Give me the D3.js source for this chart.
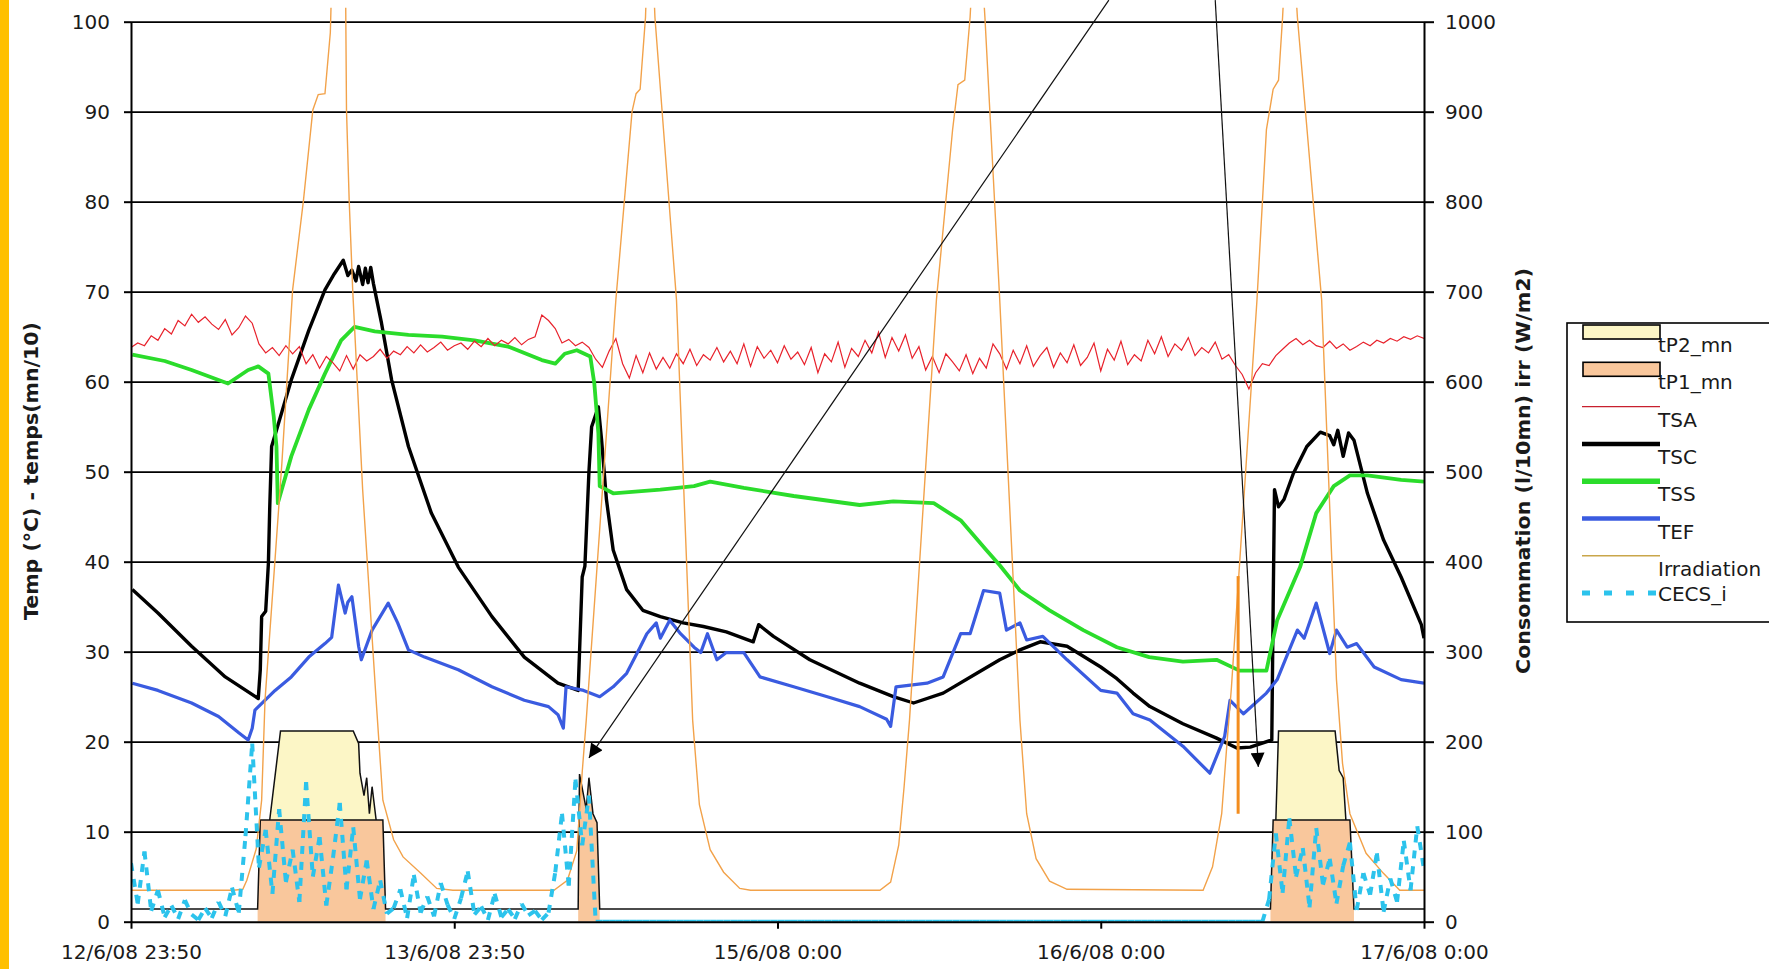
<!DOCTYPE html>
<meta charset="utf-8">
<style>
body{ margin:0; background:#fff; }
svg{ display:block; font-family:"DejaVu Sans", "Liberation Sans", sans-serif; }
.axis path, .axis line{ stroke:#000; stroke-width:2; }
.axis text{ font-family:"DejaVu Sans", sans-serif; font-size:20px; fill:#1a1a1a; }
.grid line{ stroke:#000; stroke-width:1.7; }
.grid path{ display:none; }
.legend text{ font-size:20px; fill:#1a1a1a; }
</style>
<body>
<script src="https://cdn.jsdelivr.net/npm/d3@7"></script>
<script>

// x values are hours since 12/6/08 23:50
var tickHours  = [0, 24, 48, 72, 96]
var tickLabels = ['12/6/08 23:50', '13/6/08 23:50', '15/6/08 0:00', '16/6/08 0:00', '17/6/08 0:00']

// sampled series (one value every half hour)
var SAMPLE_H = 0.5
var TSA = [
  63.8, 64.3, 64.0, 65.1, 64.6, 65.9, 65.3, 66.8, 66.2, 67.5,
  66.6, 67.2, 66.4, 65.8, 66.9, 65.2, 66.0, 67.3, 66.5, 64.2,
  63.2, 63.8, 62.9, 64.0, 63.1, 63.9, 62.0, 63.0, 61.5, 62.8,
  62.1, 61.2, 62.9, 61.4, 63.0, 62.3, 62.8, 63.6, 62.6, 63.4,
  63.0, 63.9, 63.2, 64.1, 63.3, 63.8, 64.4, 63.5, 64.0, 64.3,
  63.6, 64.5, 63.9, 64.8, 64.0, 64.6, 64.2, 64.9, 64.1, 64.7,
  65.0, 67.4, 66.8, 65.9, 64.3, 64.7, 64.0, 64.4, 63.8, 62.5,
  61.6, 63.4, 64.8, 62.0, 60.4, 62.9, 61.0, 63.2, 61.4, 62.7,
  61.5, 63.1, 62.0, 63.6, 61.8, 63.0, 62.4, 63.8, 62.2, 63.4,
  62.0, 64.2, 61.7, 63.9, 62.6, 63.5, 62.1, 64.0, 62.5, 63.3,
  61.9, 63.8, 61.0, 63.1, 62.2, 64.4, 61.6, 63.7, 62.8, 64.6,
  63.2, 65.5, 62.7, 64.9, 63.4, 65.2, 62.6, 63.9, 61.3, 62.8,
  61.0, 63.1, 62.2, 61.2, 63.0, 60.9, 62.6, 61.5, 64.2, 63.1,
  61.4, 63.5, 62.0, 64.0, 61.7, 62.9, 63.8, 61.6, 63.2, 62.1,
  64.1, 61.8, 62.7, 64.3, 61.2, 63.6, 62.4, 64.5, 61.9, 63.0,
  62.3, 64.6, 63.1, 65.0, 62.8, 64.2, 63.5, 64.9, 62.9, 63.8,
  63.2, 64.4, 62.5, 63.0, 61.8, 60.8, 59.2, 61.0, 62.0, 61.8,
  62.9, 63.6, 64.3, 64.8, 64.1, 64.6, 64.0, 63.8, 64.5, 63.7,
  64.2, 63.5, 63.9, 64.4, 64.0, 64.6, 64.3, 64.8, 64.5, 65.0,
  64.7, 65.1, 64.8
]
var CECS = [
  6.5, 2.0, 7.8, 1.2, 3.5, 0.5, 1.8, 0.3, 2.4, 0.8,
  0.2, 1.5, 0.4, 2.2, 0.6, 3.8, 1.0, 9.5, 19.8, 6.0,
  10.2, 3.1, 12.5, 4.4, 8.0, 2.2, 15.5, 5.0, 9.4, 1.8,
  7.1, 13.2, 3.6, 10.5, 2.5, 6.8, 1.4, 4.6, 0.9, 1.5,
  3.6, 0.4, 5.2, 1.0, 2.8, 0.6, 4.3, 1.9, 0.3, 2.6,
  5.6, 0.8, 1.7, 0.2, 3.1, 0.5, 1.4, 0.3, 2.0, 0.7,
  1.2, 0.2, 1.0, 5.5, 12.0, 4.0, 15.8, 8.5, 14.0, 0,
  0, 0, 0, 0, 0, 0, 0, 0, 0, 0,
  0, 0, 0, 0, 0, 0, 0, 0, 0, 0,
  0, 0, 0, 0, 0, 0, 0, 0, 0, 0,
  0, 0, 0, 0, 0, 0, 0, 0, 0, 0,
  0, 0, 0, 0, 0, 0, 0, 0, 0, 0,
  0, 0, 0, 0, 0, 0, 0, 0, 0, 0,
  0, 0, 0, 0, 0, 0, 0, 0, 0, 0,
  0, 0, 0, 0, 0, 0, 0, 0, 0, 0,
  0, 0, 0, 0, 0, 0, 0, 0, 0, 0,
  0, 0, 0, 0, 0, 0, 0, 0, 0, 2.5,
  9.8, 3.2, 11.5, 5.0, 8.2, 1.6, 10.4, 4.1, 7.0, 2.0,
  6.2, 8.8, 1.3, 5.4, 3.0, 7.6, 1.1, 4.8, 2.2, 9.0,
  3.5, 10.6, 5.8
]

// [hour, value] series
var TSC = [[0.1,36.9],[2.0,34.3],[4.5,30.6],[7.0,27.2],[9.45,24.8],[9.6,28],[9.7,33.9],[10.0,34.5],[10.2,39.8],[10.3,46],
  [10.44,52.8],[10.8,54.6],[11.9,60.2],[13.2,65.7],[14.4,70.2],[15.1,72.0],[15.76,73.5],[16.1,71.8],[16.4,72.4],[16.7,71.2],
  [16.9,72.8],[17.2,70.8],[17.4,72.6],[17.6,71.0],[17.8,72.7],[18.0,70.9],[18.6,66.5],[19.35,60.2],[20.6,52.8],[22.3,45.4],
  [24.3,39.4],[26.8,33.9],[29.2,29.4],[31.7,26.5],[33.2,25.7],[33.5,38.3],[33.7,39.5],[34.0,50],[34.2,55],[34.7,57.2],
  [34.94,53.5],[35.3,46.9],[35.8,41.3],[36.8,36.9],[38.0,34.6],[39.3,33.9],[41.0,33.2],[42.5,32.8],[44.2,32.2],[46.2,31.1],
  [46.6,33.0],[47.7,31.7],[50.4,29.1],[54.1,26.5],[56.6,25.0],[58.1,24.3],[60.3,25.4],[62.8,27.6],[64.5,29.1],[66.0,30.2],
  [67.5,31.1],[69.5,30.6],[72.0,28.3],[73.2,27.0],[74.4,25.4],[75.65,23.9],[78.1,22.0],[80.6,20.4],[82.1,19.3],[83.1,19.4],
  [84.7,20.2],[84.8,35],[84.9,48.0],[85.2,46.1],[85.6,46.9],[86.3,49.8],[87.3,52.8],[88.3,54.4],[89.0,54.0],[89.3,53.0],
  [89.6,54.6],[90.0,51.7],[90.4,54.3],[90.8,53.5],[91.8,47.6],[93.0,42.4],[94.3,38.3],[95.8,33.0],[96.0,31.5]]

var TSS = [[0.1,63.0],[2.5,62.3],[4.5,61.3],[7.2,59.8],[8.7,61.3],[9.45,61.7],[10.2,60.9],[10.6,56.1],[10.8,52.8],[10.9,46.5],
  [11.9,51.7],[13.2,56.9],[14.4,60.9],[15.6,64.6],[16.6,66.1],[18.1,65.6],[20.6,65.2],[23.1,65.0],[25.5,64.6],[28.0,63.9],
  [30.5,62.4],[31.5,62.0],[32.2,63.1],[33.1,63.5],[34.1,62.8],[34.4,59.8],[34.7,54.3],[34.8,48.4],[35.8,47.6],[39.3,48.0],
  [41.8,48.4],[43.0,48.9],[45.5,48.2],[49.2,47.3],[54.1,46.3],[56.6,46.7],[59.6,46.5],[61.6,44.6],[63.5,41.3],[64.5,39.6],
  [66.0,36.8],[68.2,34.6],[70.7,32.4],[73.2,30.5],[75.6,29.4],[78.1,28.9],[80.6,29.1],[82.3,27.9],[84.3,27.9],[85.1,33.5],
  [86.8,39.4],[88.0,45.4],[89.3,48.4],[90.5,49.6],[91.8,49.6],[94.3,49.1],[96.0,48.9]]

var TEF = [[0.1,26.5],[2.0,25.7],[4.5,24.3],[6.5,22.8],[8.0,21.0],[8.7,20.2],[9.0,21.5],[9.2,23.5],[10.7,25.7],[11.9,27.2],
  [13.2,29.4],[14.4,30.9],[14.9,31.6],[15.4,37.4],[15.9,34.3],[16.1,35.5],[16.4,36.1],[16.9,30.6],[17.1,29.1],[17.9,32.4],
  [19.1,35.4],[19.8,33.2],[20.6,30.2],[21.8,29.4],[24.3,28.0],[26.8,26.1],[29.2,24.6],[31.0,23.9],[31.7,23.0],[32.1,21.5],
  [32.3,26.1],[33.6,25.7],[34.8,25.0],[35.8,26.1],[36.8,27.6],[37.8,30.5],[38.3,32.0],[39.0,33.2],[39.3,31.5],[40.0,33.5],
  [40.8,32.0],[41.8,30.5],[42.3,29.9],[42.8,32.0],[43.5,29.1],[44.2,29.9],[45.5,29.9],[46.7,27.2],[49.2,26.1],[51.7,25.0],
  [54.1,23.9],[56.1,22.5],[56.4,21.7],[56.8,26.1],[59.1,26.5],[60.3,27.2],[61.6,32.0],[62.3,32.0],[63.3,36.8],[64.5,36.5],
  [65.0,32.4],[66.0,33.2],[66.5,31.3],[67.7,31.7],[69.5,29.1],[72.0,25.7],[73.2,25.4],[74.4,23.1],[75.65,22.4],[78.1,19.5],
  [80.1,16.5],[81.2,20.6],[81.6,24.6],[82.6,23.1],[84.3,25.4],[85.1,26.9],[86.0,30.2],[86.6,32.4],[87.1,31.5],[88.0,35.4],
  [89.0,29.8],[89.5,32.4],[90.3,30.5],[91.0,30.9],[92.3,28.3],[94.3,26.9],[96.0,26.5]]

// irradiation in W/m2 (right axis)
var IRR = [[0,35],[7.6,35],[8.3,36],[8.6,46],[9.3,81],[9.7,135],[9.95,246],[11.2,509],[12.0,702],[12.8,801],
  [13.5,902],[13.9,919],[14.4,920],[14.8,988],[15.0,1100],[15.5,1150],[15.9,1100],[16.0,902],[16.2,801],[16.46,702],
  [17.2,480],[18.2,246],[18.7,135],[19.5,91],[20.2,72],[21.5,54],[22.7,37],[23.9,35],
  [31.4,35],[32.4,46],[33.1,79],[33.5,166],[33.8,224],[36.0,691],[37.2,900],[37.5,920],[37.8,925],[38.2,1005],
  [38.5,1150],[38.9,1005],[40.5,691],[41.7,224],[42.2,130],[43.0,80],[44.0,55],[45.2,37],[46.0,35],
  [55.6,35],[56.4,44],[57.0,85],[57.4,150],[57.8,224],[59.8,691],[61.0,880],[61.4,930],[61.9,935],[62.3,1005],
  [62.8,1150],[63.4,1005],[64.5,691],[66.0,224],[66.5,120],[67.2,70],[68.2,45],[69.5,36],
  [79.6,35],[80.3,61],[80.98,120],[81.35,194],[81.7,260],[83.6,691],[84.3,880],[84.8,925],[85.2,935],[85.5,1005],
  [86.0,1150],[86.6,1005],[88.4,691],[89.5,269],[89.95,176],[90.5,120],[91.7,76],[92.97,54],[94.2,35],[96.0,35]]
var IRR_SPIKE = [[82.2,120],[82.2,384]]

// pump times (mn/10), tP2 is stacked on tP1
var TP_OFF = 1.4
var TP1 = [[0,1.4],[9.4,1.4],[9.6,11.3],[18.7,11.3],[18.9,1.4],[33.2,1.4],[33.3,16.4],[33.8,12.5],[34.0,16.0],[34.3,12.0],
  [34.6,11.0],[34.8,1.4],[84.6,1.4],[84.8,11.3],[90.5,11.3],[90.8,1.4],[96,1.4]]
var TP2 = [[10.3,0],[11.1,9.9],[16.5,9.9],[16.9,8.5],[17.0,5.2],[17.3,2.7],[17.5,4.7],[17.7,0.7],[17.9,3.7],[18.2,0],
  [85.0,0],[85.2,9.9],[89.4,9.9],[89.7,5.5],[90.0,4.7],[90.2,0]]

// annotation arrows [hour, value]
var ARROW1 = [[72.6,102.4],[34.0,18.2]]
var ARROW2 = [[80.5,102.4],[83.7,17.2]]

var legendNames = ['tP2_mn','tP1_mn','TSA','TSC','TSS','TEF','Irradiation','CECS_i']

var W = 1769, H = 969
var m = {left:131, right:345, top:21.7, bottom:47.3}
var w = W - m.left - m.right
var h = H - m.top - m.bottom

var x  = d3.scaleLinear().domain([0, 96]).range([0, w])
var y  = d3.scaleLinear().domain([0, 100]).range([h, 0])
var y2 = d3.scaleLinear().domain([0, 1000]).range([h, 0])

var svg = d3.select('body').append('svg').attr('width', W).attr('height', H)

svg.append('rect').attr('x', 0).attr('y', 0).attr('width', 9).attr('height', H).attr('fill', '#ffc000')

var g = svg.append('g').attr('transform', 'translate(' + m.left + ',' + m.top + ')')

g.append('clipPath').attr('id', 'plotclip')
  .append('rect').attr('x', 0).attr('y', -14).attr('width', w).attr('height', h + 14)

g.append('g').attr('class', 'grid')
  .call(d3.axisLeft(y).tickValues(d3.range(10, 101, 10)).tickSize(-w).tickFormat(''))

var plot = g.append('g').attr('clip-path', 'url(#plotclip)')

function at(series, t){
  var i = d3.bisector(function(d){ return d[0] }).left(series, t)
  if (i <= 0) return series[0][1]
  if (i >= series.length) return series[series.length - 1][1]
  var a = series[i - 1], b = series[i]
  if (b[0] === t) return b[1]
  return a[1] + (b[1] - a[1]) * (t - a[0]) / (b[0] - a[0])
}

// consecutive pieces of a series where the pump is on
function onRuns(series, isOn){
  var out = [], cur = null
  for (var i = 0; i < series.length - 1; i++){
    var a = series[i], b = series[i + 1]
    if (isOn(a) || isOn(b)){
      if (!cur){ cur = [a]; out.push(cur) }
      cur.push(b)
    } else cur = null
  }
  return out
}

var line = d3.line().x(function(d){ return x(d[0]) }).y(function(d){ return y(d[1]) })
var line2 = d3.line().x(function(d){ return x(d[0]) }).y(function(d){ return y2(d[1]) })

// areas
var tp1Runs = onRuns(TP1, function(d){ return d[1] > TP_OFF })
plot.selectAll('.tp1').data(tp1Runs).join('path')
  .attr('d', d3.area().x(function(d){ return x(d[0]) }).y0(y(0)).y1(function(d){ return y(d[1]) }))
  .attr('fill', '#f9c79c')

var tp2Runs = onRuns(TP2, function(d){ return d[1] > 0 })
var tp2Area = d3.area()
  .x(function(d){ return x(d[0]) })
  .y0(function(d){ return y(at(TP1, d[0])) })
  .y1(function(d){ return y(at(TP1, d[0]) + d[1]) })
plot.selectAll('.tp2').data(tp2Runs).join('path')
  .attr('d', tp2Area).attr('fill', '#fcf6c6')

plot.append('path').datum(TP1).attr('d', line)
  .attr('fill', 'none').attr('stroke', '#111').attr('stroke-width', 1.5)
plot.selectAll('.tp2line').data(tp2Runs).join('path')
  .attr('d', function(r){ return line(r.map(function(d){ return [d[0], at(TP1, d[0]) + d[1]] })) })
  .attr('fill', 'none').attr('stroke', '#111').attr('stroke-width', 1.5)

function sampled(vals){ return vals.map(function(v, i){ return [i * SAMPLE_H, v] }) }

plot.append('path').datum(TSC).attr('d', line)
  .attr('fill', 'none').attr('stroke', '#000').attr('stroke-width', 3.4).attr('stroke-linejoin', 'round')
plot.append('path').datum(TSS).attr('d', line)
  .attr('fill', 'none').attr('stroke', '#2bdc2b').attr('stroke-width', 3.8).attr('stroke-linejoin', 'round')
plot.append('path').datum(TEF).attr('d', line)
  .attr('fill', 'none').attr('stroke', '#3a5be0').attr('stroke-width', 3.2).attr('stroke-linejoin', 'round')
plot.append('path').datum(sampled(TSA)).attr('d', line)
  .attr('fill', 'none').attr('stroke', '#e8222c').attr('stroke-width', 1.2)
plot.append('path').datum(IRR).attr('d', line2)
  .attr('fill', 'none').attr('stroke', '#f2a24a').attr('stroke-width', 1.4)
plot.append('path').datum(IRR_SPIKE).attr('d', line2)
  .attr('fill', 'none').attr('stroke', '#f38d1e').attr('stroke-width', 3)

// dash pattern restarts on every segment, like the original
plot.append('g').selectAll('line').data(d3.pairs(sampled(CECS))).join('line')
  .attr('x1', function(d){ return x(d[0][0]) }).attr('y1', function(d){ return y(d[0][1]) })
  .attr('x2', function(d){ return x(d[1][0]) }).attr('y2', function(d){ return y(d[1][1]) })
  .attr('stroke', '#2cc3ec').attr('stroke-width', 4).attr('stroke-dasharray', '8,8')

// axes
g.append('g').attr('class', 'axis')
  .call(d3.axisLeft(y).tickValues(d3.range(0, 101, 10)).tickSize(7).tickPadding(14).tickSizeOuter(0))
g.append('g').attr('class', 'axis').attr('transform', 'translate(' + w + ',0)')
  .call(d3.axisRight(y2).tickValues(d3.range(0, 1001, 100)).tickFormat(d3.format('d'))
    .tickSize(10).tickPadding(11).tickSizeOuter(0))
g.append('g').attr('class', 'axis').attr('transform', 'translate(0,' + h + ')')
  .call(d3.axisBottom(x).tickValues(tickHours).tickFormat(function(d, i){ return tickLabels[i] })
    .tickSize(7).tickPadding(16).tickSizeOuter(0))

// annotation arrows
svg.append('defs').append('marker').attr('id', 'head')
  .attr('viewBox', '0 0 10 10').attr('refX', 10).attr('refY', 5)
  .attr('markerWidth', 16).attr('markerHeight', 14).attr('markerUnits', 'userSpaceOnUse')
  .attr('orient', 'auto')
  .append('path').attr('d', 'M0,0L10,5L0,10Z').attr('fill', '#000')
g.selectAll('.arrow').data([ARROW1, ARROW2]).join('path')
  .attr('d', line).attr('fill', 'none').attr('stroke', '#111').attr('stroke-width', 1.2)
  .attr('marker-end', 'url(#head)')

// axis titles
svg.append('text').attr('transform', 'translate(38,471) rotate(-90)')
  .attr('text-anchor', 'middle').attr('font-size', 20).attr('font-weight', 'bold').attr('fill', '#1a1a1a')
  .attr('textLength', 298).attr('lengthAdjust', 'spacingAndGlyphs')
  .text('Temp (°C) - temps(mn/10)')
svg.append('text').attr('transform', 'translate(1530,471) rotate(-90)')
  .attr('text-anchor', 'middle').attr('font-size', 20).attr('font-weight', 'bold').attr('fill', '#1a1a1a')
  .attr('textLength', 406).attr('lengthAdjust', 'spacingAndGlyphs')
  .text('Consommation (l/10mn) irr (W/m2)')

// legend
var lg = svg.append('g').attr('class', 'legend')
lg.append('rect').attr('x', 1567).attr('y', 323).attr('width', 220).attr('height', 299)
  .attr('fill', '#fff').attr('stroke', '#000').attr('stroke-width', 1.6)

var legendStyle = {
  'tP2_mn':      {type: 'rect', fill: '#fcf6c6'},
  'tP1_mn':      {type: 'rect', fill: '#f9c79c'},
  'TSA':         {type: 'line', stroke: '#c8202e', width: 1.4},
  'TSC':         {type: 'line', stroke: '#000', width: 4.5},
  'TSS':         {type: 'line', stroke: '#2bdc2b', width: 5.5},
  'TEF':         {type: 'line', stroke: '#3a5be0', width: 4.5},
  'Irradiation': {type: 'line', stroke: '#c9a64a', width: 1.4},
  'CECS_i':      {type: 'line', stroke: '#2cc3ec', width: 5, dash: '8,14'}
}
var row = lg.selectAll('.row').data(legendNames).join('g')
  .attr('transform', function(d, i){ return 'translate(0,' + (332 + i * 37.3) + ')' })
row.each(function(name, i){
  var s = legendStyle[name], r = d3.select(this)
  if (s.type === 'rect'){
    r.append('rect').attr('x', 1583).attr('y', -7).attr('width', 77).attr('height', 14)
      .attr('fill', s.fill).attr('stroke', '#000').attr('stroke-width', 1.6)
  } else {
    r.append('line').attr('x1', 1582).attr('x2', 1660).attr('y1', 0).attr('y2', 0)
      .attr('stroke', s.stroke).attr('stroke-width', s.width).attr('stroke-dasharray', s.dash || null)
  }
  r.append('text').attr('x', 1658).attr('y', i < 7 ? 20 : 8).text(name)
})

</script>
